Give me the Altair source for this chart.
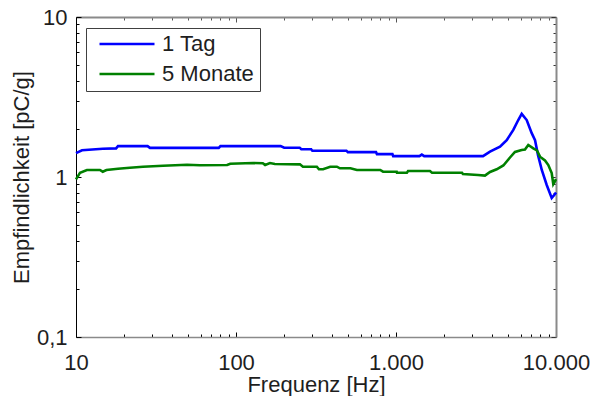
import altair as alt
import pandas as pd

SERIES = ["1 Tag", "5 Monate"]
COLORS = ["#0000ff", "#008000"]

TAG_FREQ = [10, 10.9, 14.7, 17.8, 18.3, 28, 29, 78, 80, 190, 200, 250, 256, 295, 300,
            490, 500, 750, 760, 950, 960, 1400, 1450, 1500, 3499, 3868, 4467, 4920,
            5410, 5810, 6105, 6560, 7050, 7396, 7720, 8150, 8750, 9400, 9860, 10000]
TAG_VALUE = [1.41, 1.47, 1.50, 1.51, 1.56, 1.56, 1.52, 1.52, 1.56, 1.56, 1.525, 1.525, 1.49, 1.49, 1.46,
             1.46, 1.43, 1.43, 1.39, 1.39, 1.35, 1.35, 1.38, 1.35, 1.35, 1.44, 1.546, 1.70,
             1.97, 2.27, 2.48, 2.27, 1.88, 1.70, 1.37, 1.106, 0.891, 0.739, 0.783, 0.80]

MONATE_FREQ = [10, 10.6, 11.7, 14.1, 14.7, 15.5, 18.3, 21.7, 26.2, 35, 49.4, 59.5, 88, 92,
               128, 147, 152, 163, 175, 251, 262, 320, 330, 350, 388, 427, 446, 519, 570,
               797, 830, 1010, 1014, 1170, 1190, 1630, 1680, 2585, 2620, 3254, 3597, 3870,
               4259, 4686, 5158, 5541, 6100, 6397, 6710, 7215, 7600, 7943, 8535, 8954,
               9400, 9616, 9860, 10000]
MONATE_VALUE = [0.967, 1.064, 1.106, 1.106, 1.079, 1.106, 1.127, 1.143, 1.16, 1.177, 1.194, 1.183, 1.188, 1.211,
                1.223, 1.218, 1.19, 1.223, 1.206, 1.2, 1.16, 1.16, 1.117, 1.117, 1.16, 1.16, 1.133, 1.133, 1.106,
                1.106, 1.079, 1.079, 1.064, 1.064, 1.09, 1.09, 1.064, 1.064, 1.045, 1.029, 1.02, 1.075,
                1.117, 1.18, 1.324, 1.433, 1.475, 1.486, 1.585, 1.51, 1.468, 1.34, 1.268, 1.188,
                1.059, 0.904, 0.944, 0.97]

X_TICKS = [10, 20, 30, 40, 50, 60, 70, 80, 90,
           100, 200, 300, 400, 500, 600, 700, 800, 900,
           1000, 2000, 3000, 4000, 5000, 6000, 7000, 8000, 9000, 10000]
Y_TICKS = [0.1, 0.2, 0.3, 0.4, 0.5, 0.6, 0.7, 0.8, 0.9,
           1, 2, 3, 4, 5, 6, 7, 8, 9, 10]
X_LABEL_VALUES = [10, 100, 1000, 10000]
X_LABEL_TEXTS = ["10", "100", "1.000", "10.000"]
Y_LABEL_VALUES = [0.1, 1, 10]
Y_LABEL_TEXTS = ["0,1", "1", "10"]

FONT = "Liberation Sans"
TEXT = "#1e1e1e"
GRAY = "#8a8a8a"

df = pd.concat([
    pd.DataFrame({"f": TAG_FREQ, "v": TAG_VALUE, "series": SERIES[0]}),
    pd.DataFrame({"f": MONATE_FREQ, "v": MONATE_VALUE, "series": SERIES[1]}),
])


def label_expr(values, texts):
    parts = [f"datum.value == {v} ? '{t}'" for v, t in zip(values, texts)]
    return " : ".join(parts) + " : ''"


def size_expr(major_values, major, minor):
    arr = ",".join(str(v) for v in major_values)
    return {"expr": f"indexof([{arr}], datum.value) >= 0 ? {major} : {minor}"}


x_scale = alt.Scale(type="log", domain=[10, 10000])
y_scale = alt.Scale(type="log", domain=[0.1, 10])

lines = alt.Chart(df).mark_line(strokeWidth=2.6).encode(
    x=alt.X("f:Q", scale=x_scale, axis=alt.Axis(
        orient="bottom", values=X_TICKS, labelExpr=label_expr(X_LABEL_VALUES, X_LABEL_TEXTS),
        tickSize=size_expr(X_LABEL_VALUES, -5, -3), tickColor="#000000", tickWidth=1,
        domainColor=GRAY, domainWidth=1.5, grid=False,
        labelFont=FONT, labelFontSize=22, labelColor=TEXT, labelPadding=20,
        labelFlush=False, labelOverlap=False, labelBaseline="top",
        title="Frequenz [Hz]", titleFont=FONT, titleFontSize=22, titleFontWeight="normal",
        titleColor=TEXT, titleX=240, titleY=54, titleAlign="center", titleBaseline="alphabetic")),
    y=alt.Y("v:Q", scale=y_scale, axis=alt.Axis(
        orient="left", values=Y_TICKS, labelExpr=label_expr(Y_LABEL_VALUES, Y_LABEL_TEXTS),
        tickSize=size_expr(Y_LABEL_VALUES, -5, -3), tickColor="#000000", tickWidth=1,
        domainColor="#000000", domainWidth=1, grid=False,
        labelFont=FONT, labelFontSize=22, labelColor=TEXT, labelPadding=14,
        labelOverlap=False, labelFlush=False,
        title="Empfindlichkeit [pC/g]", titleFont=FONT, titleFontSize=22, titleFontWeight="normal",
        titleColor=TEXT, titleX=-48, titleY=160, titleAngle=270, titleAlign="center",
        titleBaseline="alphabetic")),
    color=alt.Color("series:N", scale=alt.Scale(domain=SERIES, range=COLORS), legend=alt.Legend(
        orient="none", legendX=10, legendY=11, title=None, symbolType="stroke",
        symbolSize=3025, symbolStrokeWidth=2.5, padding=6, strokeColor="#404040",
        fillColor="white", labelFont=FONT, labelFontSize=22, labelColor=TEXT,
        labelOffset=6, symbolOffset=6, clipHeight=20, rowPadding=8)),
)

frame = alt.Chart(df).mark_line(strokeOpacity=0).encode(
    x=alt.X("f:Q", scale=x_scale, axis=alt.Axis(
        orient="top", values=X_TICKS, labels=False, title=None,
        tickSize=size_expr(X_LABEL_VALUES, -5, -3), tickColor="#555555", tickWidth=1,
        domainColor=GRAY, domainWidth=2, grid=False)),
    y=alt.Y("v:Q", scale=y_scale, axis=alt.Axis(
        orient="right", values=Y_TICKS, labels=False, title=None,
        tickSize=size_expr(Y_LABEL_VALUES, -5, -3), tickColor="#333333", tickWidth=1,
        domainColor=GRAY, domainWidth=2, grid=False)),
    detail="series:N",
)

chart = alt.layer(lines, frame).resolve_axis(x="independent", y="independent").properties(
    width=480, height=320,
    autosize=alt.AutoSizeParams(type="none"),
    padding={"left": 76, "top": 17, "right": 36, "bottom": 59},
    background="white",
).configure_view(stroke=None)

chart.save("out.html", embed_options={"renderer": "svg", "actions": False})
